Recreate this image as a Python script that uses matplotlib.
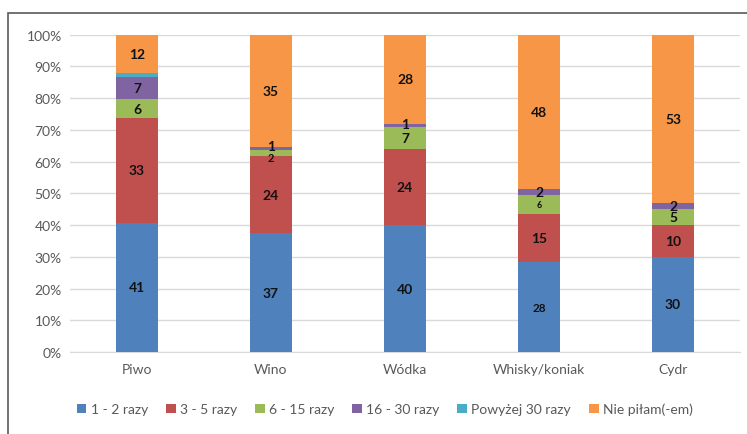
import matplotlib
matplotlib.use("Agg")
import matplotlib.pyplot as plt
import numpy as np
from matplotlib.patches import Rectangle

plt.rcParams['font.family'] = ['Lato', 'DejaVu Sans']

categories = ["Piwo", "Wino", "Wódka", "Whisky/koniak", "Cydr"]
series_names = ["1 - 2 razy", "3 - 5 razy", "6 - 15 razy", "16 - 30 razy",
                "Powyżej 30 razy", "Nie piłam(-em)"]
s1 = [41, 37, 40, 28, 30]
s2 = [33, 24, 24, 15, 10]
s3 = [6, 2, 7, 6, 5]
s4 = [7, 1, 1, 2, 2]
s5 = [1.5, 0, 0, 0, 0]
s6 = [12, 35, 28, 48, 53]
labels = [
    ["41", "37", "40", "28", "30"],
    ["33", "24", "24", "15", "10"],
    ["6", "2", "7", "6", "5"],
    ["7", "1", "1", "2", "2"],
    ["", "", "", "", ""],
    ["12", "35", "28", "48", "53"],
]
font_sizes = {(0, 3): 8.5, (2, 1): 8, (2, 3): 6.5}
offsets = {(2, 1): -1.3, (3, 1): 0.8, (3, 2): 0.4}
colors = ["#4F81BD", "#C0504D", "#9BBB59", "#8064A2", "#4BACC6", "#F79646"]

data = np.array([s1, s2, s3, s4, s5, s6], dtype=float)
pct = data / data.sum(axis=0) * 100

fig = plt.figure(figsize=(7.47, 4.35), dpi=100)
ax = fig.add_axes([0.0937, 0.1885, 0.897, 0.7295])

x = np.arange(len(categories))
bottom = np.zeros(len(categories))
handles = []
for i, (name, col) in enumerate(zip(series_names, colors)):
    h = ax.bar(x, pct[i], 0.31, bottom=bottom, color=col, label=name, zorder=3)
    handles.append(h)
    for j in range(len(categories)):
        lab = labels[i][j]
        if lab:
            fs = font_sizes.get((i, j), 10)
            y = bottom[j] + pct[i][j] / 2 + offsets.get((i, j), 0)
            ax.text(x[j], y, lab, ha="center", va="center",
                    fontsize=fs, fontweight="bold", color="#111111", zorder=4)
    bottom += pct[i]

ax.set_xlim(-0.5, 4.5)
ax.set_ylim(0, 100)
ax.set_yticks(np.arange(0, 101, 10))
ax.set_yticklabels([f"{v}%" for v in range(0, 101, 10)])
ax.set_xticks(x)
ax.set_xticklabels(categories)
ax.yaxis.grid(True, color="#D9D9D9", linewidth=1, zorder=0)
ax.tick_params(axis="both", length=0, colors="#595959", labelsize=10)
ax.tick_params(axis="x", pad=8)
ax.tick_params(axis="y", pad=6)
for sp in ["top", "right", "left"]:
    ax.spines[sp].set_visible(False)
ax.spines["bottom"].set_color("#D9D9D9")

leg = fig.legend(handles=handles, loc="center", bbox_to_anchor=(0.515, 0.057), ncol=6,
                 frameon=False, fontsize=10, handlelength=0.7, handleheight=0.7,
                 handletextpad=0.3, columnspacing=1.3, labelcolor="#595959")

fig.patches.append(Rectangle((8 / 747, -0.01), 1.0, 1 - 14 / 435 + 0.01,
                             transform=fig.transFigure, fill=False,
                             edgecolor="#595959", linewidth=1.2))

fig.savefig("out.png", dpi=100)
